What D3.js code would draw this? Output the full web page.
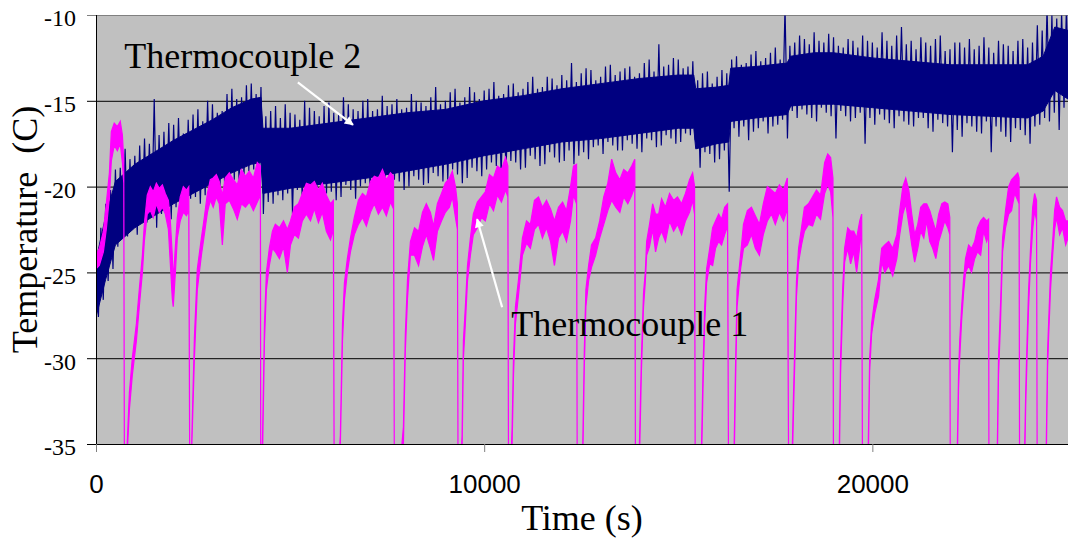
<!DOCTYPE html>
<html lang="en">
<head>
<meta charset="UTF-8">
<title>Thermocouple temperatures</title>
<script src="https://cdn.jsdelivr.net/npm/d3@7"></script>
<style>
  body { margin: 0; background: #fff; }
  svg { display: block; }
  .serif { font-family: "Liberation Serif", "Times New Roman", Times, serif; }
  .sans { font-family: "Liberation Sans", Arial, Helvetica, sans-serif; }
</style>
</head>
<body>
<svg id="chart" width="1068" height="540"></svg>
<script>
// ticks
const yTicks = [-35, -30, -25, -20, -15, -10];
const xTicks = [0, 10000, 20000];

// Thermocouple 2 (navy) - solid core of the noisy band
const tc2CoreTime = [0, 250, 500, 1000, 1500, 2000, 2500, 3000, 3500, 4000,
  4250, 4300, 5000, 6000, 7000, 8000, 9000, 10000, 11000, 12000,
  13000, 14000, 15000, 15400, 15450, 16000, 16300, 16350, 17000, 17800,
  17900, 18500, 19000, 20000, 21000, 22000, 23000, 24000, 24400, 24700, 25040];
const tc2CoreHigh = [-24.3, -21.7, -19.7, -18.7, -18.0, -17.3, -16.7, -16.1, -15.4, -14.9,
  -14.8, -16.6, -16.6, -16.3, -16.0, -15.7, -15.5, -15.0, -14.7, -14.3,
  -14.0, -13.7, -13.5, -13.5, -14.3, -14.2, -14.1, -13.1, -13.0, -12.8,
  -12.4, -12.2, -12.2, -12.5, -12.7, -12.9, -12.9, -12.9, -12.4, -10.7, -10.9];
const tc2CoreLow = [-27.6, -25.4, -23.4, -22.4, -21.7, -21.0, -20.4, -19.8, -19.2, -18.7,
  -18.6, -20.4, -20.1, -19.8, -19.5, -19.1, -18.7, -18.2, -17.8, -17.4,
  -17.2, -16.9, -16.6, -16.6, -17.8, -17.5, -17.4, -16.2, -16.0, -15.8,
  -15.3, -15.2, -15.2, -15.4, -15.6, -15.8, -15.9, -16.0, -15.6, -14.4, -14.9];

// Thermocouple 2 spikes, one high and one low reading every 125 s
const tc2SpikeStep = 125;
const tc2SpikeHigh = [
  -23.5, -22.4, -21.0, -20.2, -19.0, -18.9, -17.8, -18.4, -18.2, -17.6,
  -17.2, -17.5, -14.9, -17.0, -16.8, -16.3, -16.4, -16.0, -16.9, -16.1,
  -15.8, -15.5, -16.2, -15.0, -15.2, -15.7, -15.6, -14.6, -14.3, -14.9,
  -14.8, -14.1, -14.0, -14.6, -14.2, -15.9, -15.6, -15.3, -16.0, -15.2,
  -15.7, -15.8, -16.1, -15.0, -15.4, -15.6, -15.9, -15.3, -15.1, -15.7,
  -15.8, -14.8, -15.2, -15.5, -15.6, -15.0, -14.9, -15.6, -15.5, -14.7,
  -15.3, -15.2, -14.9, -15.5, -15.4, -14.6, -15.0, -15.1, -15.3, -14.8,
  -14.2, -15.2, -15.0, -14.5, -14.3, -15.1, -14.8, -14.2, -14.5, -14.9,
  -14.4, -14.3, -13.9, -14.7, -14.6, -14.1, -14.0, -14.5, -14.3, -13.9,
  -13.6, -14.3, -14.2, -13.6, -13.7, -14.1, -13.5, -13.8, -12.8, -13.9,
  -13.4, -13.1, -13.2, -13.8, -13.6, -13.0, -12.9, -13.5, -13.3, -13.1,
  -13.0, -13.6, -13.4, -12.8, -12.6, -13.3, -11.7, -13.0, -12.9, -12.5,
  -12.6, -13.1, -13.0, -12.7, -13.8, -13.4, -13.3, -14.0, -13.6, -13.2,
  -13.4, -12.6, -12.4, -12.9, -12.8, -12.3, -12.1, -12.7, -12.5, -12.2,
  -11.9, -12.6, -9.5, -11.8, -11.6, -11.2, -11.4, -11.7, -11.0, -11.5,
  -11.6, -11.1, -11.3, -11.8, -11.9, -11.4, -11.5, -11.9, -11.2, -11.5,
  -11.6, -11.9, -11.0, -11.5, -11.8, -11.2, -10.7, -11.7, -11.5, -12.0,
  -11.3, -11.6, -11.8, -11.4, -11.2, -12.1, -12.0, -11.6, -11.6, -11.9,
  -11.4, -12.0, -11.8, -11.3, -11.9, -12.2, -11.5, -11.7, -11.8, -12.1,
  -11.5, -11.4, -11.9, -11.6, -10.6, -10.9, -9.5, -10.0, -10.2, -9.8,
  -9.5];
const tc2SpikeLow = [
  -27.6, -26.6, -25.5, -24.8, -23.5, -22.6, -22.9, -22.3, -22.8, -21.9,
  -22.1, -21.8, -22.4, -21.6, -21.3, -21.9, -21.2, -20.9, -21.6, -20.7,
  -20.6, -21.0, -20.5, -20.0, -20.1, -20.5, -19.8, -19.6, -19.6, -19.9,
  -19.4, -19.1, -19.0, -19.3, -21.6, -20.9, -21.0, -20.5, -20.8, -20.4,
  -21.6, -20.2, -20.7, -20.9, -20.5, -20.1, -21.2, -20.4, -20.3, -20.8,
  -20.6, -19.9, -20.2, -20.7, -20.0, -19.8, -20.4, -20.0, -19.9, -20.3,
  -20.1, -19.6, -19.7, -20.2, -20.0, -19.4, -19.6, -19.9, -19.8, -19.2,
  -19.4, -19.7, -19.6, -19.0, -19.3, -19.8, -19.5, -18.9, -19.1, -19.4,
  -19.0, -18.6, -18.8, -19.3, -19.2, -18.5, -18.6, -19.0, -18.9, -18.2,
  -18.4, -18.8, -18.7, -18.0, -18.3, -18.6, -18.5, -17.9, -18.7, -18.2,
  -18.0, -18.4, -17.7, -17.6, -18.1, -17.4, -17.6, -17.9, -17.9, -17.3,
  -17.5, -17.8, -18.0, -17.2, -17.3, -17.7, -17.6, -17.0, -17.2, -17.5,
  -17.4, -16.9, -17.0, -17.3, -18.9, -18.0, -18.1, -18.6, -18.4, -17.9,
  -20.3, -16.6, -17.1, -16.5, -17.3, -16.8, -16.6, -16.2, -16.9, -16.5,
  -16.4, -16.1, -17.2, -15.6, -16.0, -15.5, -15.8, -16.0, -16.2, -15.4,
  -15.7, -15.9, -17.2, -15.6, -15.9, -16.2, -16.0, -15.7, -17.5, -16.0,
  -16.4, -15.8, -16.1, -16.3, -16.6, -15.9, -16.2, -16.4, -16.5, -16.0,
  -16.0, -16.6, -16.8, -16.1, -16.3, -16.5, -18.0, -16.7, -17.1, -16.3,
  -16.5, -16.8, -16.9, -16.2, -18.0, -16.5, -16.8, -17.1, -17.4, -16.6,
  -16.7, -17.0, -17.5, -16.5, -16.4, -16.0, -16.2, -15.7, -16.7, -15.4,
  -15.5];

// Thermocouple 1 (magenta) - band low/high; -40 marks a drop off the bottom
const tc1Time = [
  0, 85, 190, 265, 345, 395, 470, 550, 625, 680, 715, 735,
  795, 860, 935, 1040, 1115, 1195, 1245, 1320, 1400, 1475, 1555, 1630, 1710, 1785, 1865, 1915, 1965, 1990, 2045, 2095, 2170, 2250, 2330, 2390, 2420,
  2470, 2535, 2610, 2715, 2790, 2870, 2945, 3020, 3100, 3175, 3255, 3330, 3435, 3540, 3640, 3745, 3850, 3950, 4055, 4155, 4235, 4245,
  4295, 4340, 4390, 4465, 4545, 4620, 4725, 4830, 4930, 5010, 5110, 5215, 5315, 5420, 5525, 5625, 5730, 5830, 5935, 6040, 6115, 6140,
  6295, 6350, 6400, 6475, 6555, 6655, 6760, 6865, 6965, 7070, 7170, 7275, 7380, 7480, 7585, 7665, 7690,
  7920, 7970, 8025, 8100, 8205, 8310, 8410, 8510, 8615, 8695, 8795, 8900, 9000, 9105, 9180, 9260, 9310, 9330,
  9430, 9465, 9515, 9570, 9645, 9720, 9825, 9930, 10030, 10135, 10240, 10340, 10445, 10550, 10610, 10630,
  10720, 10755, 10805, 10885, 10985, 11090, 11190, 11295, 11400, 11500, 11605, 11710, 11810, 11915, 12020, 12120, 12225, 12300, 12380, 12400,
  12540, 12580, 12620, 12690, 12765, 12870, 12975, 13080, 13185, 13285, 13390, 13495, 13595, 13700, 13800, 13880, 13900,
  14000, 14050, 14105, 14150, 14185, 14260, 14340, 14415, 14495, 14570, 14670, 14775, 14880, 14980, 15085, 15185, 15290, 15370, 15420, 15440,
  15600, 15640, 15680, 15730, 15810, 15885, 15960, 16040, 16115, 16195, 16270, 16300,
  16440, 16475, 16515, 16605, 16680, 16780, 16885, 16985, 17090, 17190, 17295, 17400, 17500, 17605, 17710, 17810, 17850,
  17940, 17970, 18010, 18045, 18100, 18175, 18250, 18355, 18460, 18560, 18665, 18770, 18850, 18925, 18985, 19000,
  19150, 19180, 19235, 19285, 19365, 19440, 19520, 19595, 19675, 19725, 19750,
  19895, 19930, 19980, 20060, 20160, 20240, 20320, 20420, 20525, 20630, 20705, 20785, 20860, 20940, 21015, 21090, 21170, 21245, 21325, 21400, 21480, 21555, 21635, 21710, 21790, 21865, 21945, 21995, 22010,
  22190, 22220, 22250, 22300, 22350, 22400, 22480, 22555, 22635, 22710, 22790, 22865, 22945, 22995, 23005,
  23220, 23250, 23300, 23355, 23430, 23510, 23585, 23665, 23745, 23780, 23795,
  23925, 23950, 23985, 24025, 24075, 24130, 24180, 24230, 24250,
  24480, 24515, 24540, 24590, 24645, 24695, 24745, 24825, 24900, 24980, 25040];
const tc1Low = [
  -24.8, -24.6, -23.8, -22.5, -20.6, -18.5, -17.6, -17.9, -17.5, -18.6, -19.8, -40,
  -36, -33.0, -31.0, -29.0, -27.0, -25.0, -23.2, -21.6, -21.4, -21.8, -21.0, -21.5, -21.2, -21.6, -22.5, -24.5, -26.5, -27.0, -25.0, -23.0, -22.0, -21.5, -21.7, -21.4, -40,
  -35.0, -30.0, -26.0, -24.0, -22.8, -21.5, -20.8, -21.2, -20.6, -21.0, -23.4, -21.0, -20.8, -21.3, -21.9, -21.0, -21.2, -20.9, -21.4, -20.9, -20.5, -40,
  -35, -29.0, -26.0, -24.6, -23.6, -23.8, -24.2, -23.5, -25.0, -23.4, -22.8, -23.0, -22.0, -21.6, -22.0, -21.3, -22.1, -21.5, -22.6, -23.1, -22.5, -40,
  -35, -29.0, -26.6, -25.0, -23.8, -22.8, -22.2, -21.8, -22.3, -21.5, -21.0, -21.6, -21.2, -21.7, -20.9, -21.3, -40,
  -35, -29.5, -26.5, -24.0, -24.0, -24.6, -23.5, -22.8, -23.6, -24.3, -22.6, -22.0, -21.5, -21.2, -20.6, -21.8, -22.5, -40,
  -35.5, -30.0, -28.0, -25.5, -24.0, -22.8, -22.4, -21.8, -22.0, -21.0, -21.4, -20.5, -20.9, -20.2, -20.6, -40,
  -35, -31.0, -28.0, -26.3, -24.0, -23.3, -23.6, -22.5, -22.2, -23.0, -22.4, -23.2, -24.6, -23.0, -22.6, -23.2, -22.0, -20.5, -21.0, -40,
  -36, -30.5, -27.0, -25.5, -24.7, -24.0, -23.0, -22.2, -21.4, -20.8, -21.2, -21.5, -20.6, -21.0, -20.5, -20.0, -40,
  -36, -30.8, -27.0, -25.6, -24.0, -23.5, -22.5, -23.8, -23.0, -22.6, -23.2, -22.0, -22.6, -22.2, -22.8, -22.0, -21.5, -20.8, -21.6, -40,
  -36, -31.5, -28.0, -25.6, -24.5, -24.6, -23.6, -23.2, -23.4, -22.8, -22.3, -40,
  -36, -31.5, -27.0, -24.8, -23.6, -23.4, -22.8, -23.6, -24.0, -22.8, -22.0, -21.6, -22.2, -21.5, -22.0, -21.3, -40,
  -36, -33.0, -29.5, -26.4, -24.4, -23.4, -22.6, -22.2, -22.3, -21.6, -21.9, -20.4, -19.9, -20.3, -21.8, -40,
  -36, -31.0, -27.0, -24.4, -23.6, -24.5, -23.8, -25.0, -23.5, -22.5, -40,
  -36, -30.8, -28.6, -27.4, -26.4, -24.4, -25.0, -24.6, -25.2, -24.2, -22.8, -21.6, -21.0, -22.2, -23.4, -24.4, -23.6, -22.6, -23.0, -22.0, -23.2, -23.6, -24.2, -23.2, -22.6, -22.0, -22.4, -22.8, -40,
  -36, -31.8, -30.0, -27.8, -26.2, -25.0, -24.6, -25.0, -24.2, -23.8, -24.0, -22.6, -23.2, -22.8, -40,
  -36, -31.0, -28.0, -23.8, -22.4, -21.6, -21.4, -20.4, -20.8, -21.0, -40,
  -36, -32.8, -30.0, -27.0, -24.4, -22.5, -21.4, -22.0, -40,
  -36, -30.5, -28.8, -26.0, -24.0, -22.5, -21.8, -22.8, -22.4, -23.4, -23.0];
const tc1High = [
  -24.0, -23.6, -22.6, -21.0, -19.2, -16.8, -16.3, -16.5, -16.2, -17.0, -18.5, -40,
  -35.5, -32.0, -30.0, -28.0, -26.0, -24.0, -22.2, -20.5, -20.0, -20.3, -19.8, -20.1, -19.9, -20.4, -20.8, -22.0, -24.0, -25.5, -23.5, -21.8, -20.6, -20.0, -20.2, -20.0, -40,
  -34.5, -28.8, -24.8, -23.0, -21.8, -20.4, -19.6, -19.5, -19.3, -19.7, -20.5, -19.5, -19.2, -19.6, -19.9, -19.0, -19.4, -19.1, -19.5, -18.6, -18.8, -40,
  -34, -28.0, -25.0, -23.6, -22.6, -22.2, -22.4, -22.0, -22.5, -22.0, -21.2, -21.0, -20.4, -19.8, -19.9, -19.7, -20.2, -19.8, -20.5, -21.0, -20.8, -40,
  -34.5, -28.0, -25.6, -24.2, -23.0, -21.8, -20.8, -20.4, -20.6, -19.7, -19.4, -19.5, -19.0, -19.6, -19.2, -19.4, -40,
  -34, -28.5, -25.4, -23.2, -22.4, -22.6, -21.5, -21.0, -21.5, -22.3, -21.0, -20.4, -19.8, -19.5, -19.1, -20.0, -21.0, -40,
  -34.5, -29.0, -27.0, -24.6, -23.0, -21.6, -20.9, -20.6, -20.3, -19.3, -19.5, -18.8, -19.0, -18.3, -18.8, -40,
  -34, -30.0, -27.0, -25.4, -23.0, -22.0, -22.2, -20.8, -20.6, -21.2, -20.8, -21.3, -22.0, -21.2, -20.9, -21.4, -20.0, -18.8, -18.7, -40,
  -35, -29.5, -26.0, -24.6, -23.4, -23.0, -22.0, -20.6, -19.8, -18.4, -19.2, -19.6, -19.0, -19.2, -18.8, -18.4, -40,
  -35, -30.0, -26.2, -25.0, -23.2, -22.2, -21.0, -21.6, -21.6, -20.7, -21.2, -20.4, -20.8, -20.6, -21.0, -20.4, -19.6, -19.2, -20.0, -40,
  -35, -30.5, -27.0, -24.8, -23.6, -22.4, -22.0, -21.6, -21.9, -21.2, -21.0, -40,
  -35, -30.5, -26.0, -24.0, -22.2, -21.4, -21.2, -21.7, -22.2, -21.0, -20.0, -20.2, -20.4, -19.9, -20.2, -19.5, -40,
  -35, -32.0, -28.5, -25.5, -23.6, -22.4, -21.2, -21.0, -20.6, -20.2, -20.5, -18.6, -18.1, -18.3, -19.5, -40,
  -35, -30.0, -26.0, -23.6, -22.4, -22.6, -22.6, -23.0, -22.0, -21.6, -40,
  -35, -30.0, -28.0, -26.6, -25.4, -23.6, -23.4, -23.2, -23.6, -22.8, -21.4, -20.0, -19.5, -20.2, -21.6, -22.8, -22.2, -21.2, -21.0, -21.0, -21.4, -22.0, -22.6, -21.6, -21.0, -20.9, -21.0, -21.8, -40,
  -35, -31.0, -29.0, -27.0, -25.4, -24.2, -23.4, -23.6, -23.2, -22.4, -22.0, -21.8, -22.0, -21.9, -40,
  -35, -30.0, -27.0, -23.0, -21.4, -20.0, -19.6, -19.4, -19.2, -19.5, -40,
  -35, -32.0, -29.0, -26.0, -23.6, -21.2, -20.4, -20.8, -40,
  -35, -29.5, -28.0, -25.0, -23.2, -21.4, -20.6, -21.2, -21.4, -22.0, -22.0];

// annotations, placed in data units
const labelTc2 = { text: 'Thermocouple 2', t: 730, v: -13.1 };
const labelTc1 = { text: 'Thermocouple 1', t: 10700, v: -28.72 };
const arrowTc2 = { from: [5200, -13.92], to: [6620, -16.4] };
const arrowTc1 = { from: [10463, -27.03], to: [9818, -21.9] };

const svg = d3.select('#chart');
const plotLeft = 96, plotRight = 1068, plotTop = 15, plotBottom = 444;

const x = d3.scaleLinear().domain([0, 25040]).range([plotLeft, plotRight]);
const y = d3.scaleLinear().domain([-35, -10]).range([plotBottom, plotTop]);

// grey plot area
svg.append('rect')
  .attr('x', plotLeft).attr('y', plotTop)
  .attr('width', plotRight - plotLeft).attr('height', plotBottom - plotTop + 1)
  .attr('fill', '#c0c0c0');

svg.append('defs').append('clipPath').attr('id', 'plotClip')
  .append('rect')
  .attr('x', plotLeft + 0.5).attr('y', plotTop + 0.5)
  .attr('width', plotRight - plotLeft).attr('height', plotBottom - plotTop);

// gridlines + left ticks
const grid = svg.append('g')
  .attr('transform', `translate(${plotLeft},0)`)
  .call(d3.axisLeft(y).tickValues(yTicks).tickSize(-(plotRight - plotLeft)).tickFormat(''));
grid.select('.domain').remove();
grid.selectAll('.tick line').attr('stroke', d => d === -10 ? '#808080' : '#000');

const yAxis = svg.append('g')
  .attr('transform', `translate(${plotLeft},0)`)
  .call(d3.axisLeft(y).tickValues(yTicks).tickSize(9).tickSizeOuter(0).tickPadding(11)
    .tickFormat(d => String(d)));
yAxis.select('.domain').remove();
yAxis.selectAll('.tick line').attr('stroke', d => d === -10 ? '#808080' : '#000');
yAxis.selectAll('.tick text')
  .attr('class', 'serif')
  .attr('font-size', 24)
  .attr('dy', '0.45em')
  .attr('fill', '#000');

// series
const plotArea = svg.append('g').attr('clip-path', 'url(#plotClip)');

const coreArea = d3.area()
  .x(i => x(tc2CoreTime[i]))
  .y0(i => y(tc2CoreLow[i]))
  .y1(i => y(tc2CoreHigh[i]));
plotArea.append('path')
  .attr('d', coreArea(d3.range(tc2CoreTime.length)))
  .attr('fill', '#000080')
  .attr('stroke', '#000080')
  .attr('stroke-width', 1);

const spikePoints = tc2SpikeHigh.flatMap((hi, i) => [
  [i * tc2SpikeStep, hi],
  [i * tc2SpikeStep + tc2SpikeStep / 2, tc2SpikeLow[i]]
]);
plotArea.append('path')
  .attr('d', d3.line().x(d => x(d[0])).y(d => y(d[1]))(spikePoints))
  .attr('fill', 'none')
  .attr('stroke', '#000080')
  .attr('stroke-width', 1.2);

const tc1Area = d3.area()
  .x(i => x(tc1Time[i]))
  .y0(i => y(tc1Low[i]))
  .y1(i => y(tc1High[i]));
plotArea.append('path')
  .attr('d', tc1Area(d3.range(tc1Time.length)))
  .attr('fill', '#ff00ff')
  .attr('stroke', '#ff00ff')
  .attr('stroke-width', 1.2);

// axis lines on top
svg.append('line')
  .attr('x1', plotLeft + 0.5).attr('x2', plotLeft + 0.5)
  .attr('y1', plotTop).attr('y2', plotBottom + 1)
  .attr('stroke', '#000');

const xAxis = svg.append('g')
  .attr('transform', `translate(0,${plotBottom})`)
  .call(d3.axisBottom(x).tickValues(xTicks).tickSize(8).tickSizeOuter(0).tickPadding(23)
    .tickFormat(d => String(d)));
xAxis.select('.domain').attr('stroke', '#000');
xAxis.selectAll('.tick line').attr('stroke', '#808080');
xAxis.selectAll('.tick text')
  .attr('class', 'sans')
  .attr('font-size', 26)
  .attr('fill', '#000');

// axis titles
svg.append('text')
  .attr('class', 'serif')
  .attr('x', (plotLeft + plotRight) / 2)
  .attr('y', 530)
  .attr('text-anchor', 'middle')
  .attr('font-size', 36)
  .text('Time (s)');

svg.append('text')
  .attr('class', 'serif')
  .attr('transform', `translate(37,${(plotTop + plotBottom) / 2}) rotate(-90)`)
  .attr('text-anchor', 'middle')
  .attr('font-size', 36)
  .style('white-space', 'pre')
  .text('Temperature  (C)');

// annotations
svg.select('defs').append('marker')
  .attr('id', 'arrowHead')
  .attr('viewBox', '0 0 10 10')
  .attr('refX', 9).attr('refY', 5)
  .attr('markerWidth', 11).attr('markerHeight', 9)
  .attr('markerUnits', 'userSpaceOnUse')
  .attr('orient', 'auto')
  .append('path')
  .attr('d', 'M0,0L10,5L0,10z')
  .attr('fill', '#fff');

[arrowTc2, arrowTc1].forEach(a => {
  svg.append('line')
    .attr('x1', x(a.from[0])).attr('y1', y(a.from[1]))
    .attr('x2', x(a.to[0])).attr('y2', y(a.to[1]))
    .attr('stroke', '#fff')
    .attr('stroke-width', 2.2)
    .attr('marker-end', 'url(#arrowHead)');
});

[labelTc2, labelTc1].forEach(l => {
  svg.append('text')
    .attr('class', 'serif')
    .attr('x', x(l.t)).attr('y', y(l.v))
    .attr('font-size', 36)
    .attr('fill', '#000')
    .text(l.text);
});
</script>
</body>
</html>
